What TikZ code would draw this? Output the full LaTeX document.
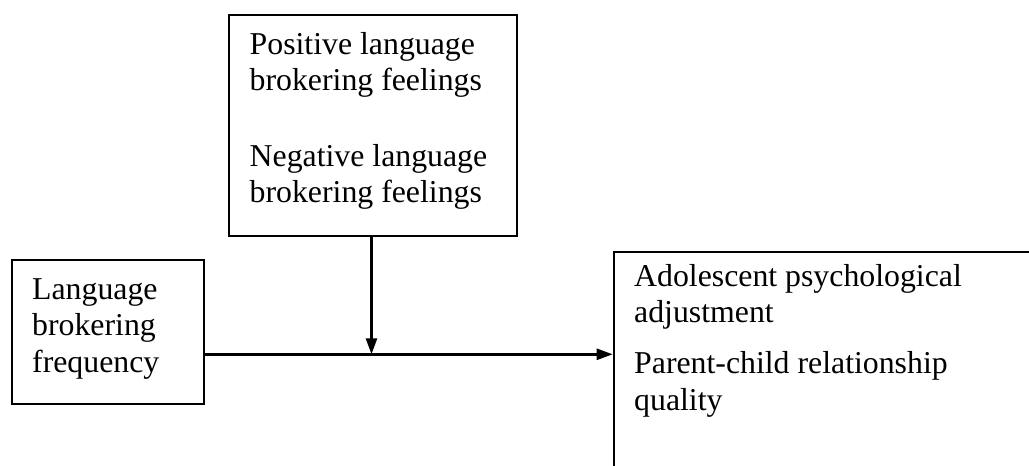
\documentclass[tikz,border=0pt]{standalone}
\usepackage{fontspec}
\setmainfont{Liberation Serif}
\usetikzlibrary{arrows.meta}
\tikzset{
  boxnode/.style={draw=black, line width=1.7pt, rectangle, inner sep=0pt, anchor=north west},
  txt/.style={anchor=base west, inner sep=0pt, font=\fontsize{31.8}{36}\selectfont},
  arr/.style={line width=2.6pt, -{Triangle[length=16pt,width=11pt]}}
}
\begin{document}
\begin{tikzpicture}[x=1pt,y=-1pt]
\useasboundingbox (0,0) rectangle (1029,466);
\clip (0,0) rectangle (1029,466);
% boxes
\node[boxnode, minimum width=288pt, minimum height=221pt] (mod) at (228,14) {};
\node[boxnode, minimum width=192pt, minimum height=144pt] (lbf) at (11,259) {};
\node[boxnode, line width=2.2pt, minimum width=600pt, minimum height=400pt] (out) at (612.7,251) {};
% texts
\node[txt] (m1) at (249.5,54) {Positive language};
\node[txt] (m2) at (249.5,90) {brokering feelings};
\node[txt] (m3) at (249.5,166) {Negative language};
\node[txt] (m4) at (249.5,202) {brokering feelings};
\node[txt] (l1) at (32,299) {Language};
\node[txt] (l2) at (32,335) {brokering};
\node[txt] (l3) at (32,372) {frequency};
\node[txt] (o1) at (634,286) {Adolescent psychological};
\node[txt] (o2) at (634,322) {adjustment};
\node[txt] (o3) at (634,373) {Parent-child relationship};
\node[txt] (o4) at (634,410) {quality};
% connectors
\coordinate (mid) at (371.5,354.3);
\draw[arr] (lbf.east |- mid) -- (out.west |- mid);
\draw[arr] (mid |- mod.south) -- (mid);
\end{tikzpicture}
\end{document}
